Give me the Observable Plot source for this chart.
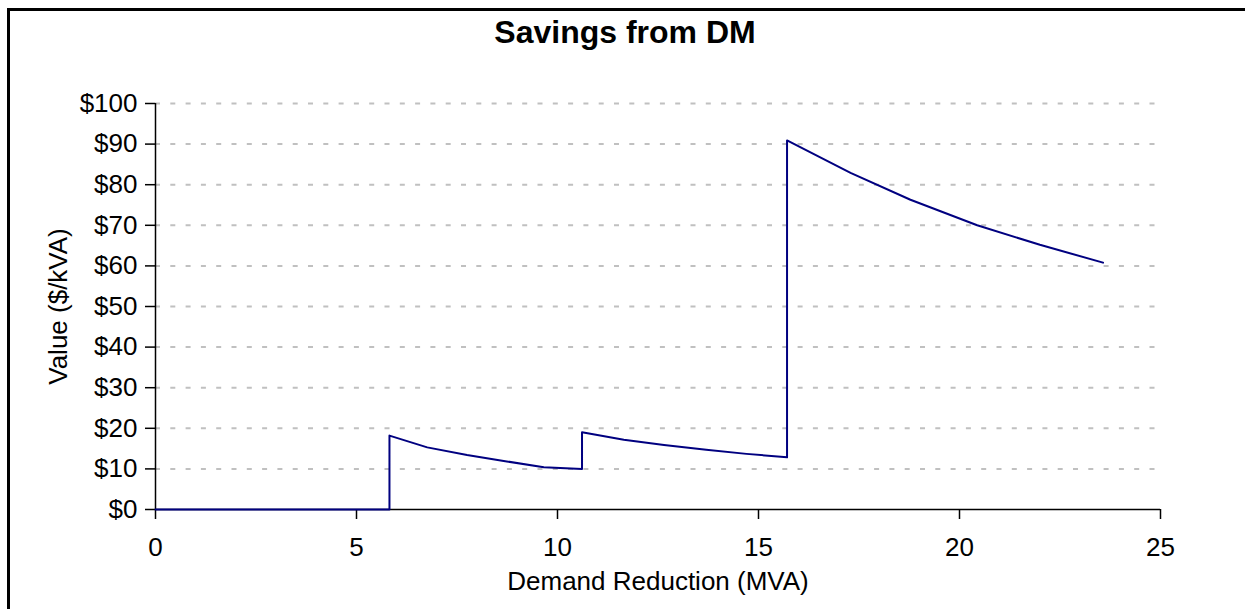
<!DOCTYPE html>
<html>
<head>
<meta charset="utf-8">
<script src="https://cdn.jsdelivr.net/npm/d3@7"></script>
<script src="https://cdn.jsdelivr.net/npm/@observablehq/plot@0.6"></script>
<style>
  html, body { margin: 0; padding: 0; background: #fff; overflow: hidden; width: 1245px; height: 609px; }
  #frame { position: absolute; left: 7px; top: 8px; width: 1400px; height: 800px; border-left: 3px solid #000; border-top: 3px solid #000; }
  #chart { position: absolute; left: 0; top: 0; }
  #chart svg { display: block; }
</style>
</head>
<body>
<div id="frame"></div>
<div id="chart"></div>
<script>
// ---- data ----
const demandMVA = [0, 5.82, 5.82, 6.76, 7.75, 8.7, 9.66, 10.61, 10.61, 11.65, 12.65, 13.7, 14.7, 15.71, 15.71, 17.29, 18.78, 20.44, 22.0, 23.57];
const valuePerKVA = [0, 0, 18.2, 15.3, 13.4, 11.9, 10.4, 10.0, 19.0, 17.2, 15.9, 14.7, 13.7, 12.85, 90.9, 82.9, 76.3, 70.0, 65.2, 60.8];
const yTicks = [0, 10, 20, 30, 40, 50, 60, 70, 80, 90, 100];
const xTicks = [0, 5, 10, 15, 20, 25];
const chartTitle = "Savings from DM";
const xTitle = "Demand Reduction (MVA)";
const yTitle = "Value ($/kVA)";

const data = demandMVA.map((x, i) => ({x, y: valuePerKVA[i]}));
const FONT = '"Liberation Sans", Arial, sans-serif';

const plot = Plot.plot({
  width: 1245,
  height: 609,
  marginLeft: 155,
  marginRight: 85,
  marginTop: 103,
  marginBottom: 100,
  style: {fontFamily: FONT, fontSize: "26px", color: "#000", background: "transparent", overflow: "visible"},
  x: {domain: [0, 25]},
  y: {domain: [0, 100]},
  marks: [
    Plot.ruleY(yTicks.filter(d => d > 0), {stroke: "#c0c0c0", strokeWidth: 2, strokeDasharray: "5,10.3"}),
    Plot.axisY({ticks: yTicks, tickFormat: d => "$" + d, tickSize: 10, tickPadding: 8, label: null, strokeWidth: 1.5, fontSize: 26}),
    Plot.axisX({ticks: xTicks, tickFormat: d => String(d), tickSize: 10, tickPadding: 18, label: null, strokeWidth: 1.5, fontSize: 26}),
    Plot.ruleX([0], {stroke: "#000", strokeWidth: 1.5}),
    Plot.ruleY([0], {stroke: "#000", strokeWidth: 1.5}),
    Plot.line(data, {x: "x", y: "y", stroke: "#000080", strokeWidth: 2}),
    Plot.text([xTitle], {text: d => d, frameAnchor: "bottom", textAnchor: "middle", lineAnchor: "middle", dy: 72, fontSize: 26, fill: "#000"}),
    Plot.text([yTitle], {text: d => d, frameAnchor: "left", textAnchor: "middle", lineAnchor: "middle", dx: -97, rotate: -90, fontSize: 26, fill: "#000"}),
    Plot.text([chartTitle], {text: d => d, frameAnchor: "top", textAnchor: "middle", lineAnchor: "middle", dx: -33, dy: -71, fontSize: 32, fontWeight: "bold", fill: "#000"})
  ]
});
document.getElementById("chart").appendChild(plot);
</script>
</body>
</html>
